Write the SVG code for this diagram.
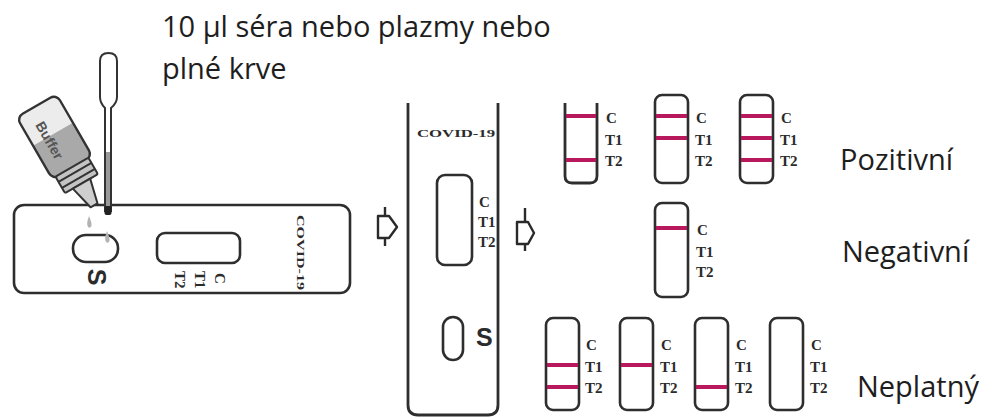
<svg xmlns="http://www.w3.org/2000/svg" width="984" height="417" viewBox="0 0 984 417">
  <style>
    .caption { font-family: "Open Sans", "Noto Sans", sans-serif; font-size: 29px; fill: #1e1e1e; }
    .lbl { font-family: "Liberation Serif", "Times New Roman", serif; font-weight: bold; font-size: 15px; fill: #2b2b2b; }
    .brand { font-family: "Liberation Serif", "Times New Roman", serif; font-weight: bold; font-size: 11px; fill: #2b2b2b; }
    .sig { font-family: "Liberation Sans", Arial, sans-serif; font-weight: bold; font-size: 25px; fill: #2b2b2b; }
    .outline { fill: #fff; stroke: #2e2e2e; stroke-width: 2.6; }
    .open { fill: none; stroke: #2e2e2e; stroke-width: 2.8; }
    .band { stroke: #b8195c; stroke-width: 4; }
    .arrow { fill: none; stroke: #2a2a2a; stroke-width: 2.4; stroke-linejoin: round; }
  </style>
  <defs>
    <!-- plain result strip, 33 wide, 88 tall -->
    <rect id="strip" x="0" y="0" width="33" height="88" rx="7"/>
    <!-- control / test line labels -->
    <g id="ctLabels" class="lbl">
      <text x="0" y="0">C</text>
      <text x="-1" y="22">T1</text>
      <text x="-1" y="43">T2</text>
    </g>
  </defs>

  <rect width="984" height="417" fill="#fff"/>

  <!-- instruction caption -->
  <g id="caption">
    <text class="caption" x="162" y="37">10 µl séra nebo plazmy nebo</text>
    <text class="caption" x="162" y="79">plné krve</text>
  </g>

  <!-- horizontal test cassette -->
  <g id="cassette-horizontal">
    <rect class="outline" x="14" y="205" width="336" height="88" rx="10"/>
    <rect class="outline" x="73" y="235" width="45" height="27" rx="13"/>
    <rect class="outline" x="157" y="233" width="83" height="30" rx="8"/>
    <text class="sig" transform="translate(97,277) rotate(90)" text-anchor="middle" y="9">S</text>
    <text class="lbl" transform="translate(175,271) rotate(90)">T2</text>
    <text class="lbl" transform="translate(195,271) rotate(90)">T1</text>
    <text class="lbl" transform="translate(215,273) rotate(90)">C</text>
    <text class="brand" transform="translate(297,215) rotate(90)" textLength="75" lengthAdjust="spacingAndGlyphs">COVID-19</text>
    <!-- drops falling into the sample well -->
    <path d="M89,216 Q92,223 91.5,226 Q90,229 88,227 Q86,224 89,216 Z" fill="#b3b3b3"/>
    <path d="M107,231 Q110,238 109.5,241 Q108,244 106,242 Q104,239 107,231 Z" fill="#b3b3b3"/>
  </g>

  <!-- buffer bottle -->
  <g id="buffer-bottle" transform="translate(95,207) rotate(-30)">
    <rect x="-23" y="-117" width="46" height="72" rx="7" fill="#ececec"/>
    <path d="M-23,-84 L23,-84 L23,-52 Q23,-45 16,-45 L-16,-45 Q-23,-45 -23,-52 Z" fill="#a9a9a9"/>
    <rect x="-23" y="-117" width="46" height="72" rx="7" fill="none" stroke="#333" stroke-width="2.4"/>
    <text transform="translate(-11,-101) rotate(90)" font-family="Liberation Sans, Arial, sans-serif" font-weight="bold" font-size="14" fill="#555">Buffer</text>
    <rect x="-19" y="-46" width="38" height="19" rx="2" fill="#c4c4c4" stroke="#333" stroke-width="2"/>
    <line x1="-19" y1="-40" x2="19" y2="-40" stroke="#333" stroke-width="2"/>
    <line x1="-19" y1="-33" x2="19" y2="-33" stroke="#333" stroke-width="2"/>
    <path d="M-10,-27 L10,-27 L4,-2 L-4,-2 Z" fill="#cfcfcf" stroke="#333" stroke-width="2" stroke-linejoin="round"/>
  </g>

  <!-- dropper pipette -->
  <g id="pipette">
    <path d="M100,97 L100,61 Q100,53 108.5,53 Q117,53 117,61 L117,97 Q117,103 111,108 L111,211 L105,211 L105,108 Q100,103 100,97 Z" fill="#fff" stroke="#333" stroke-width="2"/>
    <rect x="106" y="152" width="4" height="56" fill="#9a9a9a"/>
    <rect x="104.5" y="206" width="7" height="9" rx="2" fill="#222"/>
  </g>

  <!-- vertical test cassette -->
  <g id="cassette-vertical">
    <path class="open" d="M408,103 L408,405 Q408,415 418,415 L488,415 Q498,415 498,405 L498,103"/>
    <text class="brand" x="417" y="137" textLength="78" lengthAdjust="spacingAndGlyphs">COVID-19</text>
    <rect class="outline" x="437" y="175" width="35" height="90" rx="8"/>
    <g class="lbl">
      <text x="479" y="207">C</text>
      <text x="478" y="227">T1</text>
      <text x="478" y="247">T2</text>
    </g>
    <rect class="outline" x="443" y="317" width="20" height="43" rx="10"/>
    <text class="sig" x="476" y="346">S</text>
  </g>

  <!-- positive results -->
  <g id="positive">
    <path class="open" fill="#fff" d="M565,103 L565,176 Q565,183 572,183 L590,183 Q597,183 597,176 L597,103"/>
    <line class="band" x1="566" y1="116" x2="596" y2="116"/>
    <line class="band" x1="566" y1="160" x2="596" y2="160"/>
    <use href="#ctLabels" x="606" y="123"/>

    <use href="#strip" class="outline" x="655" y="95"/>
    <line class="band" x1="656" y1="116" x2="687" y2="116"/>
    <line class="band" x1="656" y1="138" x2="687" y2="138"/>
    <use href="#ctLabels" x="696" y="123"/>

    <use href="#strip" class="outline" x="740" y="95"/>
    <line class="band" x1="741" y1="116" x2="772" y2="116"/>
    <line class="band" x1="741" y1="138" x2="772" y2="138"/>
    <line class="band" x1="741" y1="160" x2="772" y2="160"/>
    <use href="#ctLabels" x="781" y="123"/>

    <text class="caption" x="840" y="170">Pozitivní</text>
  </g>

  <!-- negative result -->
  <g id="negative">
    <rect class="outline" x="655" y="203" width="33" height="94" rx="7"/>
    <line class="band" x1="656" y1="228" x2="687" y2="228"/>
    <g class="lbl">
      <text x="697" y="235">C</text>
      <text x="696" y="257">T1</text>
      <text x="696" y="277">T2</text>
    </g>
    <text class="caption" x="842" y="262">Negativní</text>
  </g>

  <!-- invalid results -->
  <g id="invalid">
    <rect class="outline" x="546" y="318" width="33" height="92" rx="7"/>
    <line class="band" x1="547" y1="365" x2="578" y2="365"/>
    <line class="band" x1="547" y1="387" x2="578" y2="387"/>
    <use href="#ctLabels" x="586" y="350"/>

    <rect class="outline" x="620" y="318" width="33" height="92" rx="7"/>
    <line class="band" x1="621" y1="365" x2="652" y2="365"/>
    <use href="#ctLabels" x="661" y="350"/>

    <rect class="outline" x="695" y="318" width="33" height="92" rx="7"/>
    <line class="band" x1="696" y1="387" x2="727" y2="387"/>
    <use href="#ctLabels" x="736" y="350"/>

    <rect class="outline" x="770" y="318" width="33" height="92" rx="7"/>
    <use href="#ctLabels" x="811" y="350"/>

    <text class="caption" x="857" y="397">Neplatný</text>
  </g>

  <!-- step arrows -->
  <g id="connectors">
    <path class="arrow" d="M378,216 L389,216 L397,227 L389,238 L378,238 Z M385,207 L385,216 M385,238 L385,246"/>
    <path class="arrow" d="M517,222 L528,222 L534,233 L528,244 L517,244 Z M525,208 L525,222 M525,244 L525,251"/>
  </g>
</svg>
